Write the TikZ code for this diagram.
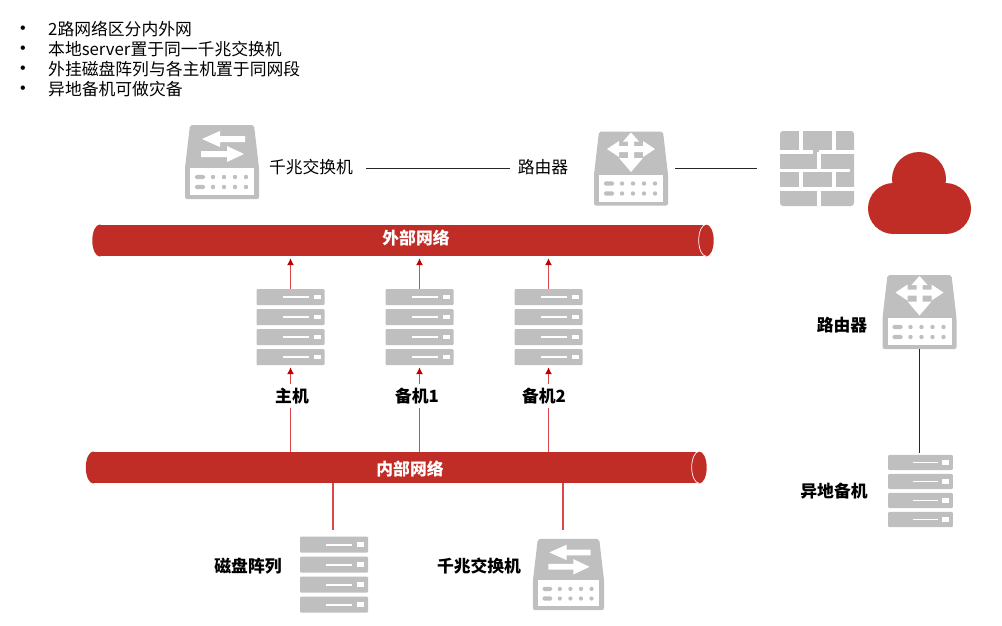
\documentclass[tikz,border=0pt]{standalone}
\usepackage{fontspec}
\setmainfont{Noto Sans CJK SC}
\newfontfamily\bulletfont{Liberation Sans}
\usepackage{xcolor}
\usetikzlibrary{positioning,arrows.meta,shapes.geometric}
\definecolor{netred}{HTML}{C02C26}
\definecolor{iconfill}{HTML}{BFBFBF}
\definecolor{linkred}{HTML}{D9484B}
\definecolor{tipred}{HTML}{C00000}
\newcommand{\panelrows}{
  \fill[iconwhite] (-32,6) rectangle (32,33);
  \foreach \rowy in {15,25}{
    \fill[iconfill, rounded corners=1.5pt] (-27,\rowy-2.2) rectangle (-17,\rowy+2.2);
    \foreach \dotx in {-9,2,13,24}
      \fill[iconfill] (\dotx,\rowy) circle (2.2);
  }
}
\tikzset{
  % the icons are drawn round their centre, 1 unit = 1 pixel
  iconbody/.style={fill=iconfill, draw=none},
  iconwhite/.style={fill=white, draw=none},
  pics/switchicon/.style={code={
    \node[minimum width=74, minimum height=74, inner sep=0] (-box) {};
    \fill[iconbody, rounded corners=2pt] (-32,-37) -- (32,-37) -- (37,6) -- (37,37) -- (-37,37) -- (-37,6) -- cycle;
    \panelrows
    \fill[iconwhite] (23,-26) -- (-2,-26) -- (-2,-31) -- (-20,-23) -- (-2,-15) -- (-2,-20) -- (23,-20) -- cycle;
    \fill[iconwhite] (-21,-11) -- (5,-11) -- (5,-16) -- (22,-8) -- (5,0) -- (5,-5) -- (-21,-5) -- cycle;
  }},
  pics/routericon/.style={code={
    \node[minimum width=74, minimum height=74, inner sep=0] (-box) {};
    \fill[iconbody, rounded corners=2pt] (-32,-37) -- (32,-37) -- (37,6) -- (37,37) -- (-37,37) -- (-37,6) -- cycle;
    \panelrows
    \fill[iconwhite] (0,-36) -- (8,-27) -- (3,-27) -- (3,-22.5) -- (12,-22.5) -- (12,-27.5) -- (24,-19.5) -- (12,-11.5) -- (12,-16.5)
      -- (3,-16.5) -- (3,-10.5) -- (12,-10.5) -- (0,3.5) -- (-12,-10.5) -- (-3,-10.5) -- (-3,-16.5) -- (-12,-16.5) -- (-12,-11.5) -- (-24,-19.5)
      -- (-12,-27.5) -- (-12,-22.5) -- (-3,-22.5) -- (-3,-27) -- (-8,-27) -- cycle;
  }},
  pics/rackicon/.style={code={
    \node[minimum width=68, minimum height=76, inner sep=0] (-box) {};
    \foreach \unity in {-30,-10,10,30}{
      \fill[iconbody, rounded corners=1pt] (-34,\unity-8) rectangle (34,\unity+8);
      \fill[iconwhite] (-8,\unity-1) rectangle (18,\unity+1);
      \fill[iconwhite] (23,\unity-2.4) rectangle (30,\unity+2.4);
    }
  }},
  netpipe/.style={fill=netred, draw=none, minimum height=31, inner sep=0},
  pipecap/.style={ellipse, fill=netred, draw=none, minimum width=15, minimum height=32, inner sep=0},
  pipetext/.style={text=white, font=\bfseries\fontsize{16.8}{18}\selectfont},
  lbl/.style={font=\fontsize{16.8}{18}\selectfont},
  blbl/.style={font=\bfseries\fontsize{16.8}{18}\selectfont},
  blackline/.style={draw=black!85, line width=.9pt},
  redline/.style={draw=linkred, line width=1.1pt},
  redar/.style={draw=linkred, line width=1.1pt, -{Latex[length=7pt,width=7pt,color=tipred]}, shorten >=2pt},
}
\begin{document}
\begin{tikzpicture}[x=1pt, y=-1pt]
\useasboundingbox (0,0) rectangle (1002,625);
% notes top left
\foreach \ty/\txt in {29.5/2路网络区分内外网, 49.5/本地server置于同一千兆交换机, 69.5/外挂磁盘阵列与各主机置于同网段, 89.5/异地备机可做灾备}{
  \node[lbl, anchor=west, inner sep=0] at (48,\ty) {\txt};
  \node[font=\bulletfont\fontsize{16}{18}\selectfont, inner sep=0] at (23,\ty) {•};
}
% pipes
\node[netpipe, minimum width=606] (ext) at (403,240.5) {};
\node[pipecap] (extleft) at (ext.west) {};
\node[pipecap] (extcap) at (ext.east) {};
\draw[white, line width=.7pt] (extcap.north) arc (-90:-270:7.5 and 16);
\node[pipetext] (extlbl) at (416,238) {外部网络};
\node[netpipe, minimum width=605.5] (int) at (396.25,467.5) {};
\node[pipecap] (intleft) at (int.west) {};
\node[pipecap] (intcap) at (int.east) {};
\draw[white, line width=.7pt] (intcap.north) arc (-90:-270:7.5 and 16);
\node[pipetext] (intlbl) at (410,469) {内部网络};
% top row
\pic (swtop) at (222,162) {switchicon};
\node[lbl] (swtoplbl) at (311,167) {千兆交换机};
\node[lbl] (rttoplbl) at (543,167) {路由器};
\pic (rttop) at (631,168.5) {routericon};
% firewall
\node[fill=iconfill, rounded corners=3pt, minimum width=74, minimum height=75, inner sep=0] (fw) at (817,168.5) {};
\foreach \wx/\wy/\wz/\wv in {780/152/813.3/152, 819/152/854/152, 780/170.5/850/170.5, 780/189/854/189,
                             801/131/801/152, 834/131/834/152, 819/152/819/170.5,
                             801/170.5/801/189, 834/170.5/834/189, 819/189/819/206}
  \draw[white, line width=3.4pt] (\wx,\wy) -- (\wz,\wv);
% cloud
\fill[netred] (893.5,208.5) circle (25.5) (945.5,208.5) circle (25.5) (919,179) circle (27);
\fill[netred] (893.5,183) rectangle (945.5,234);
\coordinate (swout) at (366,168);
\coordinate (rtin) at (510,168);
\coordinate (rtout) at (675,168);
\coordinate (fwin) at (757,168);
\draw[blackline] (swout) -- (rtin);
\draw[blackline] (rtout) -- (fwin);
% servers
\foreach \srv/\sx/\lx/\stxt in {srva/290.5/292/主机, srvb/419.5/417/备机1, srvc/548.5/544/备机2}{
  \pic (\srv) at (\sx,327) {rackicon};
  \node[blbl] (\srv lbl) at (\lx,396) {\stxt};
  \draw[redar] (\srv-box.north) -- (\srv-box.north |- ext.south);
  \draw[redar] (\srv-box.south |- \srv lbl.north) -- (\srv-box.south);
  \draw[redline] (\srv-box.south |- \srv lbl.south) -- (\srv-box.south |- int.north);
}
% below the inner network
\pic (disk) at (334,574.5) {rackicon};
\node[blbl] (disklbl) at (248,566) {磁盘阵列};
\pic[scale=.96] (swlow) at (568.5,574.5) {switchicon};
\node[blbl] (swlowlbl) at (479,566) {千兆交换机};
\coordinate (diskin) at (333,530);
\coordinate (swlowin) at (563,530);
\draw[redline] (diskin |- int.south) -- (diskin);
\draw[redline] (swlowin |- int.south) -- (swlowin);
% remote site
\pic (rtfar) at (919.5,312) {routericon};
\node[blbl] (rtfarlbl) at (842,325) {路由器};
\pic[scale=.95] (srvfar) at (920.5,491) {rackicon};
\node[blbl] (srvfarlbl) at (834,491) {异地备机};
\draw[blackline] (rtfar-box.south) -- (rtfar-box.south |- srvfar-box.north);
\end{tikzpicture}
\end{document}
